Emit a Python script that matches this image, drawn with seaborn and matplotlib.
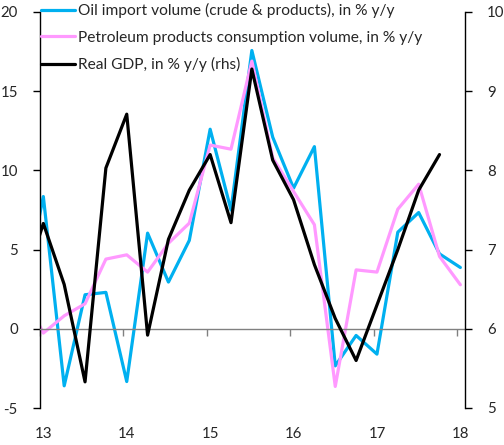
import numpy as np
import pandas as pd
import matplotlib
matplotlib.use("Agg")
import matplotlib.pyplot as plt
import seaborn as sns

# ---- data (quarterly, y/y %) ----
quarters = ["2012Q4",
            "2013Q1", "2013Q2", "2013Q3", "2013Q4",
            "2014Q1", "2014Q2", "2014Q3", "2014Q4",
            "2015Q1", "2015Q2", "2015Q3", "2015Q4",
            "2016Q1", "2016Q2", "2016Q3", "2016Q4",
            "2017Q1", "2017Q2", "2017Q3", "2017Q4",
            "2018Q1"]
oil_import = [1.8,
              8.35, -3.6, 2.15, 2.3,
              -3.33, 6.04, 2.95, 5.58,
              12.6, 7.5, 17.57, 12.1,
              8.88, 11.5, -2.34, -0.42,
              -1.6, 6.1, 7.34, 4.73,
              3.87]
petroleum_cons = [2.3,
                  -0.27, 0.82, 1.58, 4.4,
                  4.67, 3.58, 5.4, 6.67,
                  11.6, 11.34, 16.9, 10.8,
                  8.67, 6.57, -3.64, 3.72,
                  3.58, 7.55, 9.13, 4.57,
                  2.78]
real_gdp = [6.5,
            7.33, 6.56, 5.33, 8.03,
            8.71, 5.92, 7.13, 7.75,
            8.2, 7.34, 9.28, 8.13,
            7.63, 6.81, 6.13, 5.6,
            6.3, 7.0, 7.75, 8.2,
            np.nan]
year_labels = ["13", "14", "15", "16", "17", "18"]

labels = ["Oil import volume (crude & products), in % y/y",
          "Petroleum products consumption volume, in % y/y",
          "Real GDP, in % y/y (rhs)"]
colors = ["#00B0F0", "#FF99FF", "#000000"]

# quarter -> position in years (two-digit year scale)
def q_pos(q):
    y = int(q[:4]) - 2000
    n = int(q[-1])
    return y + (n - 1) / 4 + 0.04

df = pd.DataFrame({
    "x": [q_pos(q) for q in quarters],
    "oil": oil_import,
    "pet": petroleum_cons,
    "gdp": real_gdp,
})

sns.set_style("white")
plt.rcParams["font.family"] = ["Lato", "DejaVu Sans"]

W, H = 504, 445
fig = plt.figure(figsize=(W / 100, H / 100), dpi=100)
ax = fig.add_axes([40 / W, 1 - 408 / H, (464.7 - 40) / W, (408 - 12) / H])
ax.patch.set_alpha(0)
ax2 = ax.twinx()

lw = 2.3
sns.lineplot(data=df, x="x", y="oil", ax=ax, color=colors[0], lw=lw,
             label=labels[0], legend=False)
sns.lineplot(data=df, x="x", y="pet", ax=ax, color=colors[1], lw=lw,
             label=labels[1], legend=False)
sns.lineplot(data=df.dropna(), x="x", y="gdp", ax=ax2, color=colors[2], lw=lw,
             label=labels[2], legend=False)

years = [int(s) for s in year_labels]
ax.set_xlim(13.0, 18.092)
ax.set_ylim(-5, 20)
ax2.set_ylim(5, 10)
ax.set_xlabel("")
ax.set_ylabel("")
ax2.set_ylabel("")

fs = 10.8
lfs = 11.2
# left axis
ax.set_yticks(np.arange(-5, 21, 5))
ax.set_yticklabels([str(v) for v in range(-5, 21, 5)])
ax.tick_params(axis="y", direction="out", length=5, width=1, color="black",
               labelsize=fs, pad=11, left=True)
# right axis
ax2.set_yticks(np.arange(5, 11, 1))
ax2.set_yticklabels([str(v) for v in range(5, 11)])
ax2.tick_params(axis="y", direction="out", length=5, width=1, color="black",
                labelsize=fs, pad=11, right=True)

# zero line axis with tick marks
ax.spines["bottom"].set_position(("data", 0))
ax.spines["bottom"].set_color("#808080")
ax.spines["bottom"].set_linewidth(1)
ax.set_xticks(years)
ax.tick_params(axis="x", direction="out", length=5, width=1, color="#808080",
               labelbottom=False, bottom=True)
sec = ax.secondary_xaxis("bottom")
sec.set_xticks([y + 0.04 for y in years])
sec.set_xticklabels(year_labels)
sec.tick_params(axis="x", length=0, labelsize=fs, pad=14)
sec.spines["bottom"].set_visible(False)

for s in ["top", "right"]:
    ax.spines[s].set_visible(False)
ax.spines["left"].set_color("black")
ax.spines["left"].set_linewidth(1)
for s in ["top", "left", "bottom"]:
    ax2.spines[s].set_visible(False)
ax2.spines["right"].set_color("black")
ax2.spines["right"].set_linewidth(1)

h1, l1 = ax.get_legend_handles_labels()
h2, l2 = ax2.get_legend_handles_labels()
leg = ax2.legend(h1 + h2, l1 + l2, loc="upper left",
                 bbox_to_anchor=(41 / W, 1 - 3 / H), bbox_transform=fig.transFigure,
                 frameon=False, fontsize=lfs, handlelength=2.2, handletextpad=0.15,
                 labelspacing=0.8, borderpad=0, borderaxespad=0)

fig.savefig("out.png", dpi=100)
